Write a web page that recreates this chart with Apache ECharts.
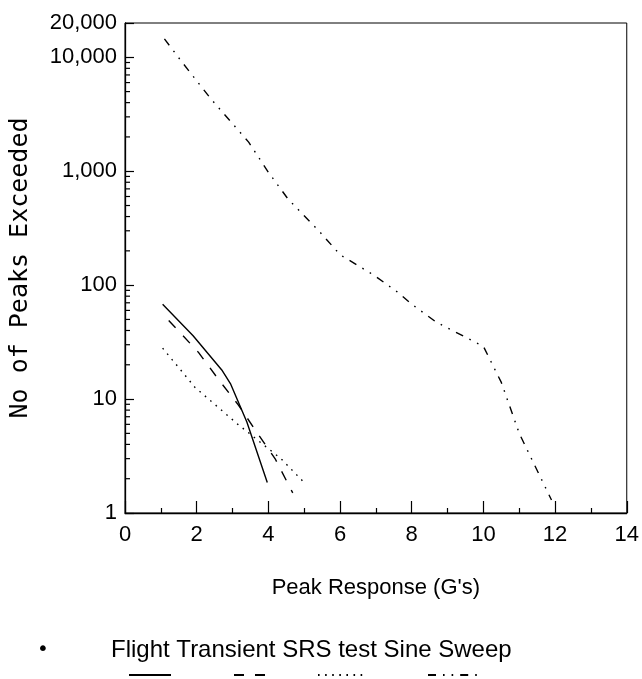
<!DOCTYPE html>
<html>
<head>
<meta charset="utf-8">
<script src="https://cdn.jsdelivr.net/npm/echarts@6/dist/echarts.min.js"></script>
<style>
html,body{margin:0;padding:0;background:#fff;}
#c{width:642px;height:679px;}
</style>
</head>
<body>
<div id="c"></div>
<script>
// ---- data ----
const seriesNames = ['Flight', 'Transient', 'SRS test', 'Sine Sweep'];
const flightData = [[1.05, 68], [1.9, 36], [2.7, 18], [2.95, 13.5], [3.4, 6.3], [3.97, 1.85]];
const transientData = [[1.22, 49], [2.05, 25.7], [2.6, 15], [3.16, 8.9], [3.68, 5.1], [4.2, 2.95], [4.68, 1.5]];
const srsData = [[1.05, 28], [1.95, 12.7], [3.15, 6.0], [4.35, 3.0], [5.0, 1.85]];
const sineData = [[1.1, 14500], [1.6, 9000], [2.4, 4300], [3.45, 1800], [4.0, 980], [4.55, 570], [5.45, 290],
                  [6.0, 185], [6.95, 122], [7.6, 87], [8.0, 68], [8.7, 47], [10.0, 29], [10.5, 14], [11.0, 5], [11.9, 1.3]];
const xAxisTitle = "Peak Response (G's)";
const yAxisTitle = 'No of Peaks Exceeded';
const legendCaption = 'Flight Transient SRS test Sine Sweep';
const yMin = 1, yMax = 20000, xMin = 0, xMax = 14, xStep = 2;

// log-axis minor tick values (2..9 in each decade)
const yMinorTicks = [];
for (let d = 1; d < yMax; d *= 10) {
  for (let m = 2; m <= 9; m++) { if (m * d < yMax) yMinorTicks.push(m * d); }
}

const NARROW = "'Liberation Sans Narrow','Liberation Sans',sans-serif";
const black = '#000';

const chart = echarts.init(document.getElementById('c'), null, {renderer: 'canvas'});

function lineSeries(name, data, type) {
  return {
    name: name, type: 'line', data: data, symbol: 'none', smooth: false,
    lineStyle: {color: black, width: 1.4, type: type},
    itemStyle: {color: black},
    z: 3
  };
}

function iconLegend(name, left, width) {
  return {
    data: [name], left: left, top: 668, itemWidth: width, itemHeight: 14,
    selectedMode: false, formatter: function () { return ''; },
    itemStyle: {color: 'transparent', borderColor: 'transparent', borderWidth: 0, opacity: 0},
    textStyle: {fontSize: 1}, padding: 0
  };
}

const option = {
  animation: false,
  backgroundColor: '#fff',
  title: {
    text: legendCaption, left: 111, top: 638, padding: 0,
    textStyle: {fontFamily: NARROW, fontSize: 24, fontWeight: 'normal', color: black}
  },
  graphic: [{
    type: 'text', left: 37, top: 640,
    style: {text: '•', fontSize: 20, fill: black, fontFamily: 'DejaVu Sans'}
  }],
  legend: [
    iconLegend(seriesNames[0], 128, 42),
    iconLegend(seriesNames[1], 233, 38),
    iconLegend(seriesNames[2], 317, 46),
    iconLegend(seriesNames[3], 427, 53)
  ],
  grid: {
    left: 124, right: 14, top: 23, bottom: 166,
    show: true, borderColor: black, borderWidth: 1, backgroundColor: 'transparent'
  },
  xAxis: {
    type: 'value', min: xMin, max: xMax, interval: xStep,
    name: xAxisTitle, nameLocation: 'middle', nameGap: 64,
    nameTextStyle: {fontFamily: NARROW, fontSize: 22, color: black},
    axisLine: {lineStyle: {color: black, width: 1.3}},
    axisTick: {inside: true, length: 12, lineStyle: {color: black, width: 1.2}},
    minorTick: {show: true, splitNumber: 2, length: 5, lineStyle: {color: black, width: 1.2}},
    splitLine: {show: false},
    minorSplitLine: {show: false},
    axisLabel: {color: black, fontFamily: NARROW, fontSize: 22, margin: 11}
  },
  yAxis: {
    type: 'log', logBase: 10, min: yMin, max: yMax,
    name: yAxisTitle, nameLocation: 'middle', nameRotate: 90, nameGap: 92,
    nameTextStyle: {fontFamily: "'DejaVu Sans Mono',monospace", fontSize: 25, color: black},
    axisLine: {lineStyle: {color: black, width: 1.3}},
    axisTick: {inside: true, length: 9, lineStyle: {color: black, width: 1.2}},
    splitLine: {show: false},
    axisLabel: {
      color: black, fontFamily: NARROW, fontSize: 22, margin: 8,
      formatter: function (v) { return Math.round(v).toLocaleString('en-US'); }
    }
  },
  series: [
    lineSeries(seriesNames[0], flightData, 'solid'),
    lineSeries(seriesNames[1], transientData, [10, 11]),
    lineSeries(seriesNames[2], srsData, [1.6, 5.5]),
    lineSeries(seriesNames[3], sineData, [8, 7, 1.6, 7, 1.6, 7]),
    {
      name: 'yMinorTicks', type: 'custom', silent: true, clip: false, z: 4,
      data: yMinorTicks.map(function (v) { return [xMin, v]; }),
      renderItem: function (params, api) {
        const p = api.coord([api.value(0), api.value(1)]);
        return {
          type: 'line',
          shape: {x1: p[0], y1: p[1], x2: p[0] + 5, y2: p[1]},
          style: {stroke: black, lineWidth: 1.2}
        };
      }
    }
  ]
};
chart.setOption(option);
</script>
</body>
</html>
